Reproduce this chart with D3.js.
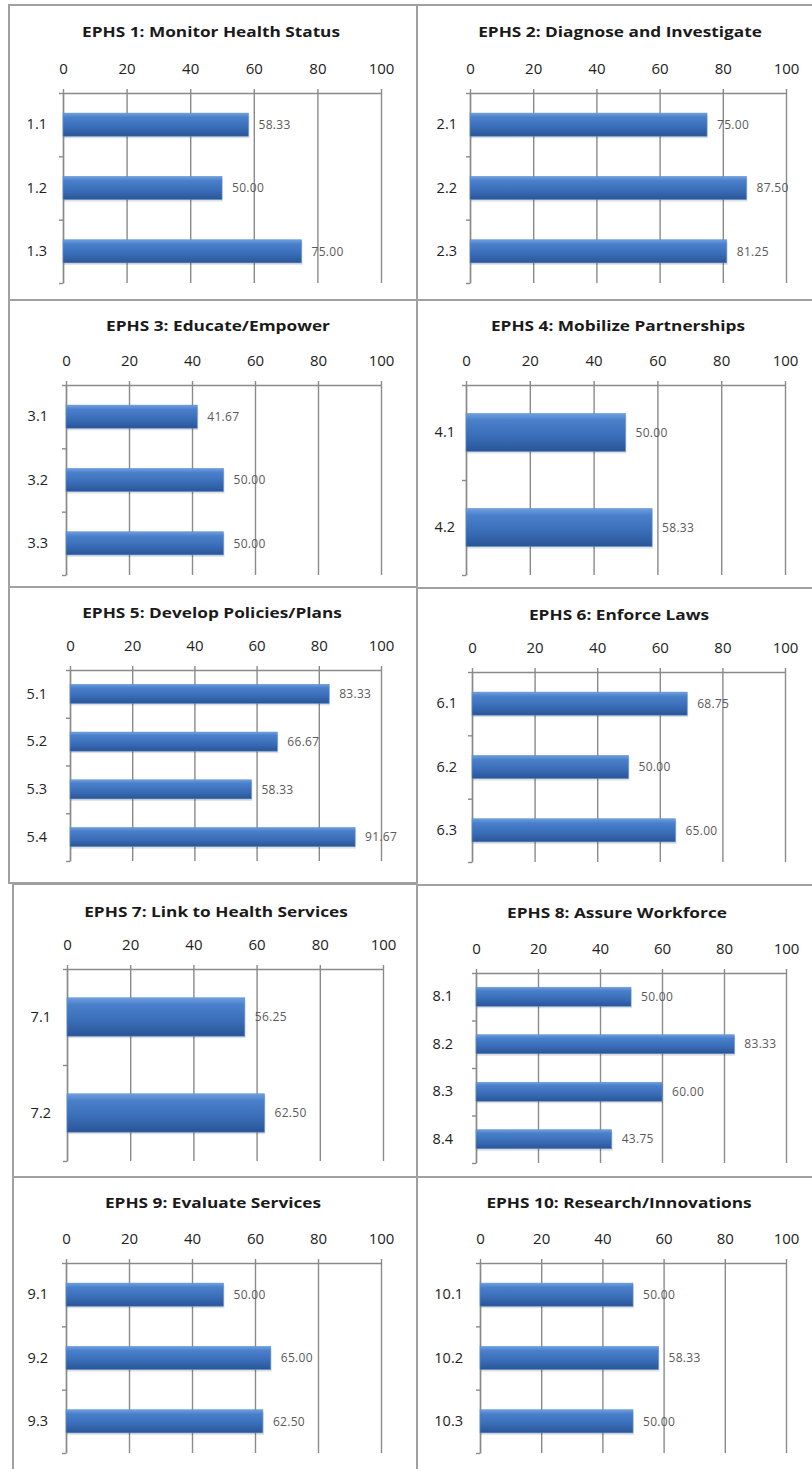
<!DOCTYPE html>
<html>
<head>
<meta charset="utf-8">
<script src="https://cdn.jsdelivr.net/npm/d3@7"></script>
<style>
  html, body { margin: 0; padding: 0; background: #ffffff; }
  svg { display: block; }
</style>
</head>
<body>
<svg id="chart" width="812" height="1469"></svg>
<script>
// ---------------- DATA ----------------
const titles = [
  "EPHS 1: Monitor Health Status",
  "EPHS 2: Diagnose and Investigate",
  "EPHS 3: Educate/Empower",
  "EPHS 4: Mobilize Partnerships",
  "EPHS 5: Develop Policies/Plans",
  "EPHS 6: Enforce Laws",
  "EPHS 7: Link to Health Services",
  "EPHS 8: Assure Workforce",
  "EPHS 9: Evaluate Services",
  "EPHS 10: Research/Innovations"
];
const ephs1Cats = ["1.1", "1.2", "1.3"];
const ephs1Vals = [58.33, 50.00, 75.00];
const ephs2Cats = ["2.1", "2.2", "2.3"];
const ephs2Vals = [75.00, 87.50, 81.25];
const ephs3Cats = ["3.1", "3.2", "3.3"];
const ephs3Vals = [41.67, 50.00, 50.00];
const ephs4Cats = ["4.1", "4.2"];
const ephs4Vals = [50.00, 58.33];
const ephs5Cats = ["5.1", "5.2", "5.3", "5.4"];
const ephs5Vals = [83.33, 66.67, 58.33, 91.67];
const ephs6Cats = ["6.1", "6.2", "6.3"];
const ephs6Vals = [68.75, 50.00, 65.00];
const ephs7Cats = ["7.1", "7.2"];
const ephs7Vals = [56.25, 62.50];
const ephs8Cats = ["8.1", "8.2", "8.3", "8.4"];
const ephs8Vals = [50.00, 83.33, 60.00, 43.75];
const ephs9Cats = ["9.1", "9.2", "9.3"];
const ephs9Vals = [50.00, 65.00, 62.50];
const ephs10Cats = ["10.1", "10.2", "10.3"];
const ephs10Vals = [50.00, 58.33, 50.00];
const xTicks = [0, 20, 40, 60, 80, 100];
const xDomain = [0, 100];

const allCats = [ephs1Cats, ephs2Cats, ephs3Cats, ephs4Cats, ephs5Cats,
                 ephs6Cats, ephs7Cats, ephs8Cats, ephs9Cats, ephs10Cats];
const allVals = [ephs1Vals, ephs2Vals, ephs3Vals, ephs4Vals, ephs5Vals,
                 ephs6Vals, ephs7Vals, ephs8Vals, ephs9Vals, ephs10Vals];

// ---------------- LAYOUT (positions only) ----------------
// box: [x0,y0,x1,y1], plot: [left,right,top,bottom], tx/ty: title center, lx: category label right edge
const layout = [
  { box: [9, 5, 417, 300],     plot: [63, 381, 93, 283],    tx: 211, ty: 32,   lx: 47 },
  { box: [417, 5, 830, 300],   plot: [470, 786, 93, 283],   tx: 620, ty: 32,   lx: 457 },
  { box: [9, 300, 417, 587],   plot: [66, 381, 385, 575],   tx: 218, ty: 326,  lx: 48 },
  { box: [417, 300, 830, 588], plot: [466, 785, 385, 575],  tx: 618, ty: 326,  lx: 455 },
  { box: [9, 587, 417, 883],   plot: [70, 381, 670, 861],   tx: 212, ty: 613,  lx: 47 },
  { box: [417, 588, 830, 885], plot: [472, 785, 672, 862],  tx: 619, ty: 615,  lx: 457 },
  { box: [13, 884, 417, 1177], plot: [67, 383, 969, 1161],  tx: 216, ty: 912,  lx: 51 },
  { box: [417, 885, 830, 1177],plot: [476, 786, 973, 1163], tx: 617, ty: 913,  lx: 453 },
  { box: [13, 1177, 417, 1480],plot: [66, 381, 1263, 1453], tx: 213, ty: 1203, lx: 48 },
  { box: [417, 1177, 830, 1480],plot: [480, 786, 1263, 1453],tx: 619, ty: 1203, lx: 463 }
];

const FONT = "'Open Sans', 'Liberation Sans', sans-serif";
const GRID = "#8a8a8a";

const svg = d3.select("#chart");

// gradient for bars
const defs = svg.append("defs");
const grad = defs.append("linearGradient").attr("id", "barGrad")
  .attr("x1", 0).attr("y1", 0).attr("x2", 0).attr("y2", 1);
grad.append("stop").attr("offset", "0%").attr("stop-color", "#6f9fdd");
grad.append("stop").attr("offset", "18%").attr("stop-color", "#4a80cb");
grad.append("stop").attr("offset", "60%").attr("stop-color", "#3a6db8");
grad.append("stop").attr("offset", "100%").attr("stop-color", "#2a5596");

// panel boxes
layout.forEach(L => {
  const [x0, y0, x1, y1] = L.box;
  svg.append("rect")
    .attr("x", x0).attr("y", y0)
    .attr("width", x1 - x0).attr("height", y1 - y0)
    .attr("fill", "none").attr("stroke", "#a0a0a0").attr("stroke-width", 2);
});

titles.forEach((title, i) => {
  const L = layout[i];
  const cats = allCats[i];
  const vals = allVals[i];
  const [left, right, top, bottom] = L.plot;
  const g = svg.append("g");

  const x = d3.scaleLinear().domain(xDomain).range([left, right]);
  const n = cats.length;
  const pad = n === 3 ? 0.635 : 0.6;
  const y = d3.scaleBand().domain(cats).range([top, bottom])
    .paddingInner(pad).paddingOuter(pad / 2);
  const yEdge = d3.scaleLinear().domain([0, n]).range([top, bottom]);

  // title (horizontally widened to match the reference's wide lettering)
  g.append("text")
    .attr("transform", `translate(${L.tx},${L.ty}) scale(1.15,1)`)
    .attr("dy", "0.36em")
    .attr("text-anchor", "middle")
    .style("font-family", FONT).style("font-size", "15px").style("font-weight", "700")
    .style("fill", "#1a1a1a")
    .text(title);

  // gridlines
  g.append("g").attr("transform", `translate(0,${top})`)
    .call(d3.axisBottom(x).tickValues(xTicks).tickSize(bottom - top).tickFormat(""))
    .call(s => s.select(".domain").remove())
    .call(s => s.selectAll(".tick line").attr("stroke", GRID).attr("stroke-width", 1.4));

  // top axis with labels
  g.append("g").attr("transform", `translate(0,${top})`)
    .call(d3.axisTop(x).tickValues(xTicks).tickSize(4).tickPadding(15).tickSizeOuter(0))
    .call(s => s.select(".domain").attr("stroke", GRID).attr("stroke-width", 1.4))
    .call(s => s.selectAll(".tick line").attr("stroke", GRID).attr("stroke-width", 1.4))
    .call(s => s.selectAll(".tick text")
      .style("font-family", FONT).style("font-size", "15px").style("fill", "#222"));

  // left axis: boundary ticks
  g.append("g").attr("transform", `translate(${left},0)`)
    .call(d3.axisLeft(yEdge).tickValues(d3.range(n + 1)).tickSize(4).tickFormat("").tickSizeOuter(0))
    .call(s => s.select(".domain").attr("stroke", GRID).attr("stroke-width", 1.4))
    .call(s => s.selectAll(".tick line").attr("stroke", GRID).attr("stroke-width", 1.4));

  // left axis: category labels
  g.append("g").attr("transform", `translate(${left},0)`)
    .call(d3.axisLeft(y).tickSize(0).tickPadding(left - L.lx))
    .call(s => s.select(".domain").remove())
    .call(s => s.selectAll(".tick text")
      .style("font-family", FONT).style("font-size", "14.5px").style("fill", "#222"));

  // bar shadows
  g.selectAll("rect.shadow").data(vals).join("rect")
    .attr("class", "shadow")
    .attr("x", x(0) + 1)
    .attr("y", (d, j) => y(cats[j]) + 2)
    .attr("width", d => x(d) - x(0))
    .attr("height", y.bandwidth())
    .attr("fill", "#000").attr("opacity", 0.12);

  // bars
  g.selectAll("rect.bar").data(vals).join("rect")
    .attr("class", "bar")
    .attr("x", x(0))
    .attr("y", (d, j) => y(cats[j]))
    .attr("width", d => x(d) - x(0))
    .attr("height", y.bandwidth())
    .attr("fill", "url(#barGrad)")
    .attr("stroke", "#5b8fd3").attr("stroke-width", 0.6);

  // value labels
  g.selectAll("text.val").data(vals).join("text")
    .attr("class", "val")
    .attr("x", d => x(d) + 10)
    .attr("y", (d, j) => y(cats[j]) + y.bandwidth() / 2)
    .attr("dy", "0.35em")
    .style("font-family", FONT).style("font-size", "12px").style("letter-spacing", "0.3px")
    .style("fill", "#5a5a5a")
    .text(d => d3.format(".2f")(d));
});
</script>
</body>
</html>
